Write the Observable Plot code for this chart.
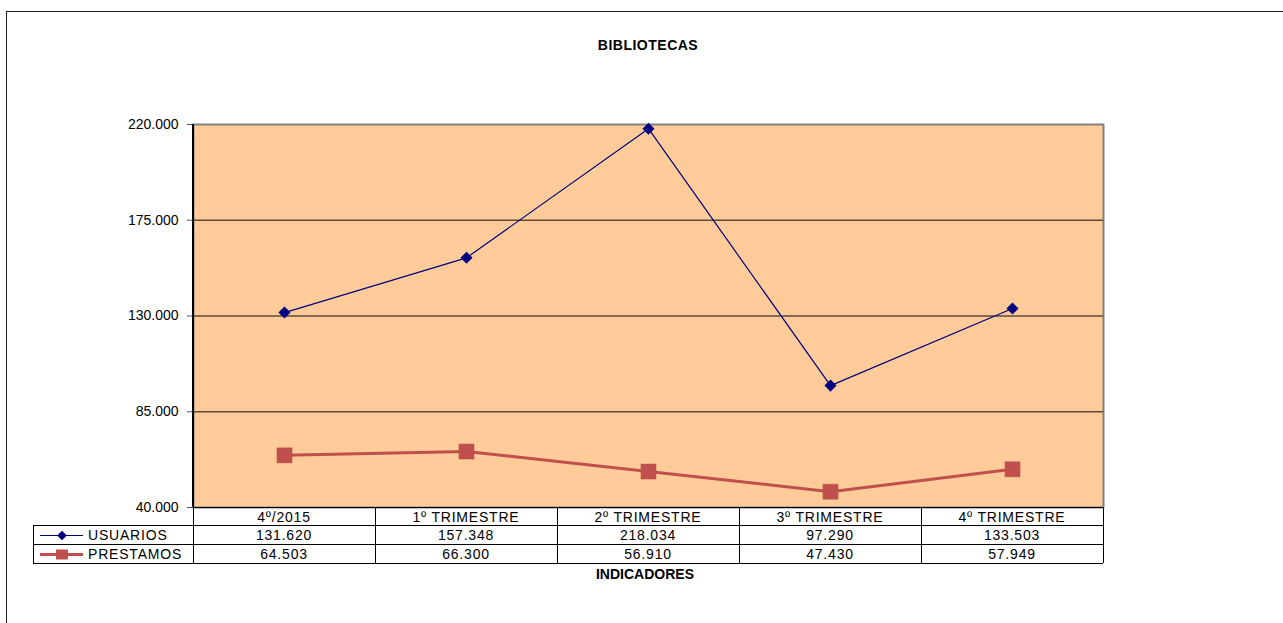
<!DOCTYPE html>
<html><head><meta charset="utf-8">
<script src="https://cdn.jsdelivr.net/npm/d3@7"></script>
<script src="https://cdn.jsdelivr.net/npm/@observablehq/plot@0.6"></script>
<style>
body{margin:0;background:#fff;font-family:Arial,"Liberation Sans",sans-serif;}
#wrap{position:relative;width:1283px;height:623px;overflow:hidden;background:#fff;}
#border{position:absolute;left:6px;top:11px;width:1290px;height:700px;border-left:1.5px solid #222;border-top:1.5px solid #222;}
#wrap svg{position:absolute;left:0;top:0;}
.t{position:absolute;font-size:14px;letter-spacing:0.8px;color:#000;text-align:center;white-space:nowrap;line-height:18px;}
.ln{position:absolute;background:#000;}
.title{position:absolute;font-weight:bold;font-size:14px;text-align:center;white-space:nowrap;}
</style></head>
<body><div id="wrap"><div id="border"></div></div>
<script>
const categories = ["4º/2015","1º TRIMESTRE","2º TRIMESTRE","3º TRIMESTRE","4º TRIMESTRE"];
const usuarios = [131620,157348,218034,97290,133503];
const prestamos = [64503,66300,56910,47430,57949];
const seriesNames = ["USUARIOS","PRESTAMOS"];
const yTicks = [40000,85000,130000,175000,220000];
const titleText = "BIBLIOTECAS";
const xTitle = "INDICADORES";

const loc = d3.formatLocale({decimal:",",thousands:".",grouping:[3],currency:["",""]});
const fmt = loc.format(",.0f");

const uData = categories.map((c,i)=>({cat:c,v:usuarios[i]}));
const pData = categories.map((c,i)=>({cat:c,v:prestamos[i]}));

const wrap = document.getElementById("wrap");
const plot = Plot.plot({
  width:1283, height:623,
  marginLeft:193, marginRight:180, marginTop:124, marginBottom:116,
  style:{fontFamily:"Arial, 'Liberation Sans', sans-serif", fontSize:"14px", background:"transparent", overflow:"visible"},
  x:{type:"band", domain:categories, padding:0, axis:null},
  y:{domain:[40000,220000], axis:null},
  marks:[
    Plot.frame({fill:"#FFCC99", stroke:"#808080", strokeWidth:2}),
    Plot.ruleY(yTicks.slice(1,-1), {stroke:"#5a4a3a", strokeWidth:1.3}),
    Plot.axisY({ticks:yTicks, tickFormat:fmt, tickSize:6, tickPadding:9, stroke:"#555", fontSize:14, label:null, style:{letterSpacing:"1.1px"}}),
    Plot.line(pData,{x:"cat", y:"v", stroke:"#C0504D", strokeWidth:3}),
    Plot.dot(pData,{x:"cat", y:"v", symbol:"square", r:8.5, fill:"#C0504D", stroke:"#C0504D", strokeWidth:0.5}),
    Plot.line(uData,{x:"cat", y:"v", stroke:"#000080", strokeWidth:1.2}),
    Plot.dot(uData,{x:"cat", y:"v", symbol:"diamond2", r:4.5, fill:"#000080", stroke:"#000080"})
  ]
});
wrap.appendChild(plot);

const sx = plot.scale("x");
const sy = plot.scale("y");
const bw = sx.bandwidth;
const xLeft = sx.apply(categories[0]);
const xRight = sx.apply(categories[categories.length-1]) + bw;
const yTop = sy.apply(220000);
const yBottom = sy.apply(40000);
const legendLeft = 33;
const rows = [yBottom, yBottom+18, yBottom+37, yBottom+56];

function line(x,y,w,h){const d=document.createElement("div");d.className="ln";Object.assign(d.style,{left:x+"px",top:y+"px",width:w+"px",height:h+"px"});wrap.appendChild(d);}
function text(s,x,y,w,h,extra){const d=document.createElement("div");d.className="t";d.textContent=s;Object.assign(d.style,{left:x+"px",top:y+"px",width:w+"px",height:h+"px",lineHeight:h+"px"},extra||{});wrap.appendChild(d);}

// value axis line
line(xLeft-1, yTop, 2, yBottom-yTop);
// horizontal lines
line(xLeft, rows[0]-0.5, xRight-xLeft, 1.5);
for (let r=1;r<4;r++) line(legendLeft, rows[r]-0.5, xRight-legendLeft, 1.2);
// vertical lines
line(legendLeft-0.5, rows[1], 1.2, rows[3]-rows[1]);
categories.forEach(c=>line(sx.apply(c)-0.5, rows[0], 1.2, rows[3]-rows[0]));
line(xRight-0.5, rows[0], 1.2, rows[3]-rows[0]);

// header row + values
categories.forEach((c,i)=>{
  const x = sx.apply(c);
  text(c, x, rows[0]+1, bw, rows[1]-rows[0]);
  text(fmt(usuarios[i]), x, rows[1]+1, bw, rows[2]-rows[1]);
  text(fmt(prestamos[i]), x, rows[2]+1, bw, rows[3]-rows[2]);
});

// legend cells
const lg = d3.select(wrap).append("svg").attr("width",1283).attr("height",623).style("pointer-events","none");
const cy1 = (rows[1]+rows[2])/2+1, cy2 = (rows[2]+rows[3])/2+1;
lg.append("line").attr("x1",40).attr("x2",83).attr("y1",cy1).attr("y2",cy1).attr("stroke","#000080").attr("stroke-width",1.2);
lg.append("path").attr("d",d3.symbol(d3.symbolDiamond2, 60)()).attr("transform",`translate(62,${cy1})`).attr("fill","#000080");
lg.append("line").attr("x1",40).attr("x2",83).attr("y1",cy2).attr("y2",cy2).attr("stroke","#C0504D").attr("stroke-width",3);
lg.append("rect").attr("x",56).attr("y",cy2-5).attr("width",12).attr("height",10).attr("fill","#C0504D");
text(seriesNames[0], 88, rows[1]+1, 100, rows[2]-rows[1], {textAlign:"left"});
text(seriesNames[1], 88, rows[2]+1, 100, rows[3]-rows[2], {textAlign:"left"});

// titles
const cx = (xLeft+xRight)/2;
const t1 = document.createElement("div"); t1.className="title"; t1.textContent=titleText;
Object.assign(t1.style,{left:(cx-150)+"px",top:"37px",width:"300px",letterSpacing:"0.5px"}); wrap.appendChild(t1);
const t2 = document.createElement("div"); t2.className="title"; t2.textContent=xTitle;
Object.assign(t2.style,{left:(cx-153)+"px",top:(rows[3]+3)+"px",width:"300px"}); wrap.appendChild(t2);
</script></body></html>
